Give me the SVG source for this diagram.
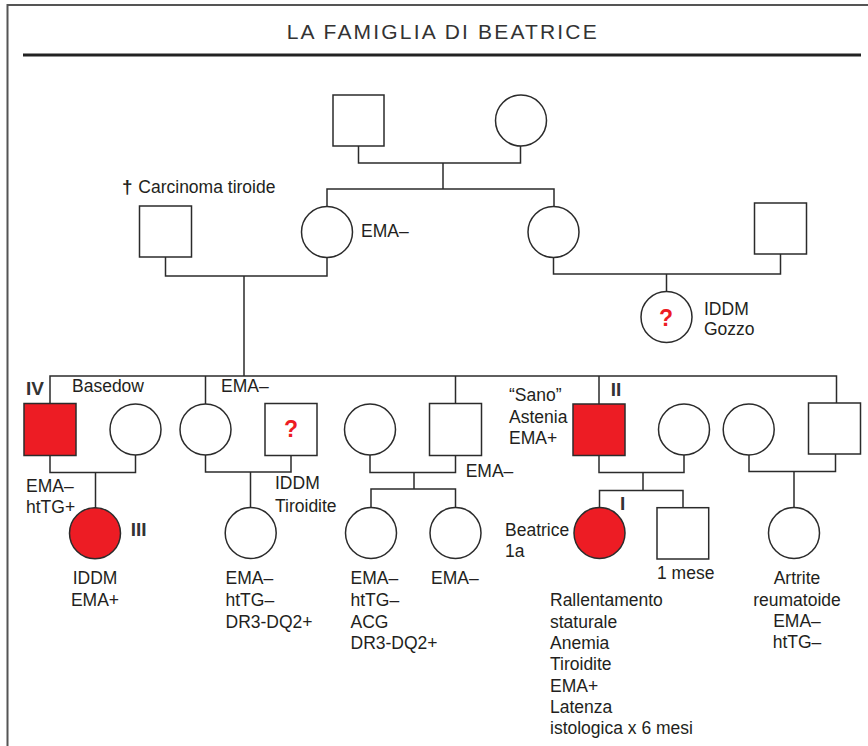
<svg xmlns="http://www.w3.org/2000/svg" width="868" height="746" viewBox="0 0 868 746">
<style>
.sh{fill:#fff;stroke:#2b2b2b;stroke-width:1.5}
.aff{fill:#ed1c24;stroke:#2b2b2b;stroke-width:1.5}
.ln{fill:none;stroke:#2b2b2b;stroke-width:1.5}
text{font-family:"Liberation Sans",Arial,sans-serif;font-size:17.5px;fill:#231f20}
.b{font-weight:bold;font-size:19px;fill:#333}
.q{font-weight:bold;font-size:23px;fill:#ed1c24;text-anchor:middle}
.m{text-anchor:middle}
</style>
<rect width="868" height="746" fill="#fff"/>
<g id="frame">
<path d="M7.5,746 V5 H868" fill="none" stroke="#555" stroke-width="2"/>
<line x1="23" y1="55" x2="861" y2="55" stroke="#222" stroke-width="3"/>
<text x="286.7" y="39" textLength="310" lengthAdjust="spacing" style="font-size:21px;fill:#333">LA FAMIGLIA DI BEATRICE</text>
</g>
<g id="connectors">
<path class="ln" d="M358.5,146 V163 H520.5 V146 M443,163 V189 M327,206.5 V189 H554 V206.5"/>
<path class="ln" d="M165.5,257 V276 H327 V257.5 M244,276 V376"/>
<path class="ln" d="M553.5,257.5 V274 H780.5 V254 M666.5,274 V291.5"/>
<path class="ln" d="M50,403.5 V376 H836.5 V403 M205.5,376 V404 M455.5,376 V403.5 M599,376 V404"/>
<path class="ln" d="M50,455.5 V472.5 H135.5 V455 M95.5,472.5 V507.8"/>
<path class="ln" d="M205.5,455 V472 H291 V455 M250.5,472 V507.5"/>
<path class="ln" d="M370,455 V472.5 H455.5 V455 M414,472.5 V489 M371,507.5 V489 H455.5 V507.5"/>
<path class="ln" d="M599,455.5 V472.5 H684 V455 M643,472.5 V490.5 M599.5,507.5 V490.5 H683 V507.7"/>
<path class="ln" d="M749,455 V471.5 H835.5 V454 M794,471.5 V507.5"/>
</g>
<g id="grandfather"><rect class="sh" x="333" y="95" width="51" height="51"/></g>
<g id="grandmother"><circle class="sh" cx="521" cy="120.5" r="25.5"/></g>
<g id="father-carcinoma"><rect class="sh" x="139.5" y="206" width="52" height="51"/>
<text x="122" y="193" style="font-weight:bold;font-size:19px">†</text><text x="138.3" y="193">Carcinoma tiroide</text></g>
<g id="mother-ema"><circle class="sh" cx="327" cy="232" r="25.5"/><text x="361" y="237">EMA–</text></g>
<g id="aunt"><circle class="sh" cx="553.5" cy="232" r="25.5"/></g>
<g id="uncle-in-law"><rect class="sh" x="754.5" y="203" width="52" height="51"/></g>
<g id="cousin-iddm"><circle class="sh" cx="666.5" cy="317" r="25.5"/><text class="q" x="666" y="326">?</text>
<text x="704" y="315">IDDM</text><text x="704" y="335">Gozzo</text></g>
<g id="uncle-iv"><rect class="aff" x="24" y="403.5" width="52" height="52"/>
<text class="b" x="26" y="395">IV</text><text x="26" y="491.7">EMA–</text><text x="26" y="512.7">htTG+</text></g>
<g id="aunt-basedow"><circle class="sh" cx="135.5" cy="429.5" r="25.5"/><text x="72" y="392">Basedow</text></g>
<g id="aunt-ema"><circle class="sh" cx="205.5" cy="429.5" r="25.5"/><text x="221" y="392">EMA–</text></g>
<g id="uncle-iddm"><rect class="sh" x="265" y="403.5" width="52" height="52"/><text class="q" x="291" y="436.5">?</text>
<text x="275" y="489.3">IDDM</text><text x="275" y="511.7">Tiroidite</text></g>
<g id="aunt-3"><circle class="sh" cx="370" cy="429.5" r="25.5"/></g>
<g id="uncle-3"><rect class="sh" x="429.5" y="403.5" width="52" height="52"/><text x="465.7" y="476.7">EMA–</text></g>
<g id="father-ii"><rect class="aff" x="573" y="404" width="52" height="51.5"/>
<text class="b" x="610.7" y="395.7">II</text>
<text x="509" y="400.7">“Sano”</text><text x="509" y="423.3">Astenia</text><text x="509" y="444">EMA+</text></g>
<g id="mother-beatrice"><circle class="sh" cx="684" cy="429.5" r="25.5"/></g>
<g id="aunt-4"><circle class="sh" cx="748.7" cy="429.5" r="25.5"/></g>
<g id="uncle-4"><rect class="sh" x="808.5" y="403" width="52" height="51"/></g>
<g id="cousin-iii"><circle class="aff" cx="95" cy="533.3" r="25.5"/><text class="b" x="130.7" y="535.7">III</text>
<text class="m" x="95" y="584">IDDM</text><text class="m" x="95" y="606">EMA+</text></g>
<g id="cousin-2"><circle class="sh" cx="250.7" cy="533" r="25.5"/>
<text x="225.5" y="584">EMA–</text><text x="225.5" y="606">htTG–</text><text x="225.5" y="627.7">DR3-DQ2+</text></g>
<g id="cousin-3"><circle class="sh" cx="371" cy="533" r="25.5"/>
<text x="350.5" y="584">EMA–</text><text x="350.5" y="606">htTG–</text><text x="350.5" y="627.7">ACG</text><text x="350.5" y="649.3">DR3-DQ2+</text></g>
<g id="cousin-4"><circle class="sh" cx="455.5" cy="533" r="25.5"/><text x="431" y="584">EMA–</text></g>
<g id="beatrice"><circle class="aff" cx="599.5" cy="533" r="25.5"/><text class="b" x="620" y="510">I</text>
<text x="505" y="536">Beatrice</text><text x="505" y="556.7">1a</text>
<text x="550" y="606">Rallentamento</text><text x="550" y="627.7">staturale</text><text x="550" y="649.3">Anemia</text><text x="550" y="670.3">Tiroidite</text><text x="550" y="692">EMA+</text><text x="550" y="712.7">Latenza</text><text x="550" y="734.3">istologica x 6 mesi</text></g>
<g id="brother"><rect class="sh" x="657" y="507.7" width="51.7" height="51.3"/><text x="657" y="578.5">1 mese</text></g>
<g id="cousin-5"><circle class="sh" cx="794" cy="533" r="25.5"/>
<text class="m" x="797" y="584">Artrite</text><text class="m" x="797" y="605.5">reumatoide</text><text class="m" x="797" y="627">EMA–</text><text class="m" x="797" y="647.5">htTG–</text></g>
</svg>
